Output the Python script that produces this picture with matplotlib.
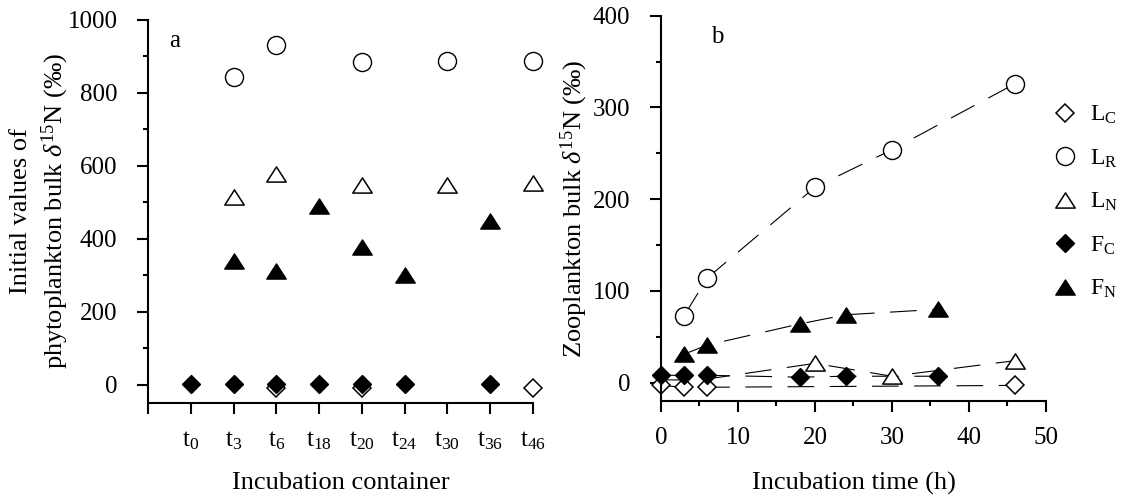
import matplotlib
matplotlib.use("Agg")
import matplotlib.pyplot as plt
from matplotlib.path import Path
from matplotlib.ticker import MultipleLocator

plt.rcParams['font.family'] = ['Liberation Serif', 'DejaVu Serif']
plt.rcParams['mathtext.fontset'] = 'custom'
plt.rcParams['mathtext.rm'] = 'Liberation Serif'
plt.rcParams['mathtext.it'] = 'Liberation Serif:italic'

# ---- panel a: initial phytoplankton values per container ----
containers = ['0', '3', '6', '18', '20', '24', '30', '36', '46']

a_lc_idx = [2, 4, 8]
a_lc = [-8, -8, -8]
a_lr_idx = [1, 2, 4, 6, 8]
a_lr = [844, 931, 885, 887, 887]
a_ln_idx = [1, 2, 4, 6, 8]
a_ln = [515, 578, 547, 548, 552]
a_fc_idx = [0, 1, 2, 3, 4, 5, 7]
a_fc = [3, 3, 3, 3, 3, 3, 3]
a_fn_idx = [1, 2, 3, 4, 5, 7]
a_fn = [340, 312, 489, 377, 300, 450]

# ---- panel b: zooplankton over incubation time ----
b_lc_t = [0, 3, 6, 46]
b_lc = [-3, -5, -5, -3]
b_lr_t = [3, 6, 20, 30, 46]
b_lr = [73, 114, 213, 254, 326]
b_ln_t = [0, 3, 6, 20, 30, 46]
b_ln = [3, 3, 4, 21, 7, 24]
b_fc_t = [0, 3, 6, 18, 24, 36]
b_fc = [8, 8, 8, 6, 7, 7]
b_fn_t = [3, 6, 18, 24, 36]
b_fn = [31, 41, 64, 74, 80]

# slightly flattened triangle, like the reference
tri = Path([(-1, -0.78), (1, -0.78), (0, 0.78), (-1, -0.78)], closed=True)
styles = {
    'LC': dict(marker='D', ms=9, mfc='white', mec='black', mew=1.1),
    'LR': dict(marker='o', ms=13, mfc='white', mec='black', mew=1.0),
    'LN': dict(marker=tri, ms=14, mfc='white', mec='black', mew=1.1),
    'FC': dict(marker='D', ms=9, mfc='black', mec='black', mew=1.0),
    'FN': dict(marker=tri, ms=14, mfc='black', mec='black', mew=1.0),
}
labels = {'LC': r'L$_\mathrm{C}$', 'LR': r'L$_\mathrm{R}$', 'LN': r'L$_\mathrm{N}$',
          'FC': r'F$_\mathrm{C}$', 'FN': r'F$_\mathrm{N}$'}
dash = dict(color='black', lw=0.8, ls=(0, (24, 14)))

fig = plt.figure(figsize=(11.27, 4.99), dpi=100)
ax1 = fig.add_axes([0.1313, 0.1924, 0.3416, 0.768])
ax2 = fig.add_axes([0.5865, 0.1964, 0.3416, 0.772])

for ax in (ax1, ax2):
    ax.spines['top'].set_visible(False)
    ax.spines['right'].set_visible(False)
    ax.spines['left'].set_linewidth(1.5)
    ax.spines['bottom'].set_linewidth(1.5)
    ax.tick_params(which='major', direction='out', length=8, width=1.5, labelsize=18)
    ax.tick_params(which='minor', direction='out', length=3.5, width=1.5)
    ax.tick_params(axis='y', which='major', pad=14)
    ax.tick_params(axis='x', which='major', pad=11)

# panel a
for key, idx, vals in [('LC', a_lc_idx, a_lc), ('LR', a_lr_idx, a_lr), ('LN', a_ln_idx, a_ln),
                       ('FC', a_fc_idx, a_fc), ('FN', a_fn_idx, a_fn)]:
    ax1.plot(idx, vals, ls='none', clip_on=False, **styles[key])
ax1.set_xlim(-1, 8)
ax1.set_ylim(-50, 1000)
ax1.set_xticks(range(-1, 9))
ax1.set_xticklabels([''] + ['t$_{%s}$' % c for c in containers])
ax1.yaxis.set_major_locator(MultipleLocator(200))
ax1.yaxis.set_minor_locator(MultipleLocator(100))
ax1.set_xlabel('Incubation container', fontsize=19)
ax1.set_ylabel('Initial values of\nphytoplankton bulk $\\delta^{15}$N (‰)', fontsize=19,
               linespacing=1.35)
ax1.xaxis.set_label_coords(0.5, -0.18)
ax1.yaxis.set_label_coords(-0.2, 0.5)
ax1.text(0.055, 0.945, 'a', transform=ax1.transAxes, fontsize=18, va='center')

# panel b
for key, t, vals in [('LC', b_lc_t, b_lc), ('LR', b_lr_t, b_lr), ('LN', b_ln_t, b_ln),
                     ('FC', b_fc_t, b_fc), ('FN', b_fn_t, b_fn)]:
    ax2.plot(t, vals, **dash, zorder=1)
    if key == 'LN':
        ax2.plot(t[3:], vals[3:], ls='none', clip_on=False, zorder=2, **styles[key])
    else:
        ax2.plot(t, vals, ls='none', clip_on=False, zorder=2, **styles[key])
ax2.set_xlim(0, 50)
ax2.set_ylim(-20, 400)
ax2.xaxis.set_major_locator(MultipleLocator(10))
ax2.xaxis.set_minor_locator(MultipleLocator(5))
ax2.yaxis.set_major_locator(MultipleLocator(100))
ax2.yaxis.set_minor_locator(MultipleLocator(50))
ax2.set_xlabel('Incubation time (h)', fontsize=19)
ax2.set_ylabel('Zooplankton bulk $\\delta^{15}$N (‰)', fontsize=19)
ax2.xaxis.set_label_coords(0.5, -0.185)
ax2.yaxis.set_label_coords(-0.185, 0.5)
ax2.text(0.13, 0.945, 'b', transform=ax2.transAxes, fontsize=18, va='center')

order = ['LC', 'LR', 'LN', 'FC', 'FN']
handles = [plt.Line2D([], [], ls='none', **styles[k]) for k in order]
fig.legend(handles, [labels[k] for k in order],
           loc='upper left', bbox_to_anchor=(1053 / 1127, 1 - 104 / 499),
           frameon=False, fontsize=17, handlelength=1.0, handletextpad=0.55,
           labelspacing=0.9, borderpad=0, borderaxespad=0)

fig.savefig('out.png', dpi=100)
